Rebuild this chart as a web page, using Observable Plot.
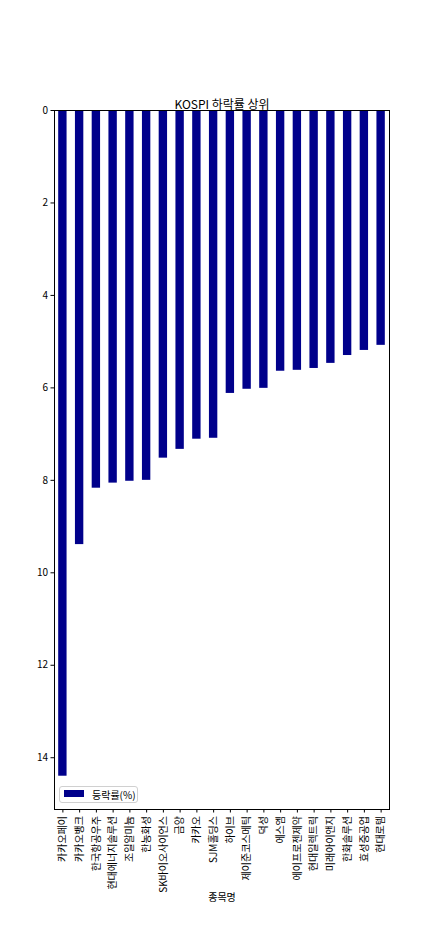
<!DOCTYPE html>
<html><head><meta charset="utf-8">
<script src="https://cdn.jsdelivr.net/npm/d3@7"></script>
<script src="https://cdn.jsdelivr.net/npm/@observablehq/plot@0.6"></script>
<style>
body{margin:0;background:white;}
#wrap{position:relative;width:432px;height:925px;font-family:'Noto Sans CJK KR','Noto Sans',sans-serif;}
#legend{position:absolute;left:59px;top:786px;width:79px;height:17px;border:1px solid #d0d0d0;border-radius:3px;background:rgba(255,255,255,0.8);box-sizing:border-box;}
#legend .sw{position:absolute;left:4px;top:3px;width:20px;height:7px;background:darkblue;}
#legend .lb{position:absolute;left:32px;top:0px;font-size:10px;line-height:15px;color:#000;}
</style></head>
<body><div id="wrap"></div>
<script>
const names = ["카카오페이","카카오뱅크","한국항공우주","현대에너지솔루션","조일알미늄","한농화성","SK바이오사이언스","금양","카카오","SJM홀딩스","하이브","제이준코스메틱","덕성","에스엠","에이프로젠제약","현대일렉트릭","미래아이앤지","한화솔루션","효성중공업","현대로템"];
const values = [14.40,9.39,8.17,8.06,8.02,8.00,7.52,7.33,7.11,7.09,6.12,6.03,6.01,5.64,5.62,5.58,5.47,5.30,5.19,5.08];
const yTicks = [0,2,4,6,8,10,12,14];
const title = "KOSPI 하락률 상위";
const xLabel = "종목명";
const seriesName = "등락률(%)";

const data = names.map((n,i)=>({name:n, value:values[i]}));
const yMax = d3.max(values)*1.05;

const chart = Plot.plot({
  width:432, height:925,
  marginTop:110, marginBottom:116, marginLeft:54, marginRight:43,
  style:{fontFamily:"'Noto Sans CJK KR','Noto Sans',sans-serif", fontSize:"10px", color:"black", background:"white", overflow:"visible"},
  x:{domain:names, paddingInner:0.5, paddingOuter:0.25, round:false, label:null},
  y:{domain:[0,yMax], reverse:true, label:null},
  marks:[
    Plot.barY(data,{x:"name", y:"value", fill:"darkblue"}),
    Plot.frame({stroke:"black", strokeWidth:1}),
    Plot.axisY({ticks:yTicks, tickSize:3.5, tickPadding:3, label:null, fontSize:10}),
    Plot.axisX({tickRotate:-90, tickSize:3.5, tickPadding:3, label:null, fontSize:10, textAnchor:"end", lineAnchor:"middle"}),
    Plot.text([title],{frameAnchor:"top", dy:-10, fontSize:12}),
    Plot.text([xLabel],{frameAnchor:"bottom", dy:91, fontSize:10})
  ]
});
const wrap = document.getElementById("wrap");
wrap.appendChild(chart);
const lg = document.createElement("div");
lg.id="legend";
lg.innerHTML = `<div class="sw"></div><div class="lb">${seriesName}</div>`;
wrap.appendChild(lg);
</script></body></html>
